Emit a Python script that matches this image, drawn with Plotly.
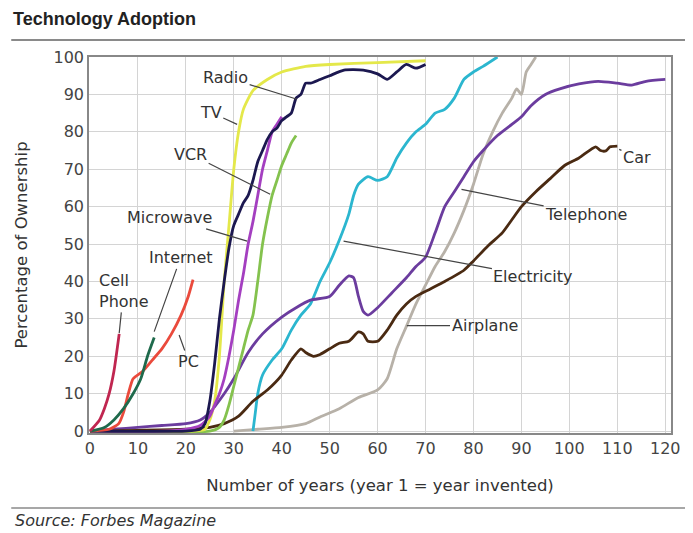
import plotly.graph_objects as go

# ---- data (years since invention, % ownership) ----
cell_x = [0, 2, 3, 4, 5, 6.1]
cell_y = [0, 3, 6, 10, 16, 26]

internet_x = [0, 3, 5, 7, 9, 10.6, 12, 13.4]
internet_y = [0, 1, 3, 6, 10, 14, 20, 25]

pc_x = [0, 4, 6, 7, 8, 9, 11, 13, 15, 17, 19, 20.5, 21.5]
pc_y = [0, 0.5, 2, 5, 10, 14, 16, 19, 22, 26, 31, 36, 40.5]

tv_x = [0, 20, 24, 25, 26, 27, 28, 29, 30, 31, 32, 34, 37, 40, 45, 50, 60, 70]
tv_y = [0, 0, 0.5, 3, 8, 20, 40, 55, 70, 80, 86, 91, 94, 96, 97.5, 98, 98.5, 99]

radio_x = [0, 20, 23, 24, 25, 26, 27, 28, 29, 30, 31, 32, 33, 34, 35, 36, 37, 38,
           39, 40, 41, 42, 43, 44, 45, 46, 48, 50, 53, 57, 60, 62, 64, 66, 68, 70]
radio_y = [0, 0, 0.5, 2, 8, 18, 30, 40, 49, 55, 58, 61, 63, 67, 72, 75, 78, 80,
           81, 83, 84, 85, 89, 90, 93, 93, 94, 95, 96.5, 96.5, 95.5, 94, 96, 98, 97, 98]

microwave_x = [0, 15, 20, 23, 25, 26, 27, 28, 29, 30, 31, 32, 33, 34, 35, 36, 37, 38, 39, 40]
microwave_y = [0, 0, 0.5, 1.5, 4, 7, 10, 14, 20, 27, 35, 42, 50, 56, 63, 70, 75, 80, 82, 84]

vcr_x = [0, 25, 27, 28, 29, 30, 31, 32, 33, 34, 35, 36, 37, 38, 39, 40, 41, 42, 43]
vcr_y = [0, 0, 1, 3, 7, 12, 17, 22, 27, 31, 40, 50, 57, 63, 67, 71, 74, 77, 79]

elec_x = [34, 34.5, 35, 36, 38, 40, 42, 44, 46, 48, 50, 52, 54, 55, 56, 58, 60, 62,
          64, 66, 68, 70, 72, 74, 76, 78, 80, 82, 85]
elec_y = [0, 5, 10, 15, 19, 22, 27, 31, 34, 40, 45, 51, 58, 63, 66, 68, 67, 68,
          73, 77, 80, 82, 85, 86, 89, 94, 96, 97.5, 100]

phone_x = [0, 5, 10, 15, 20, 23, 25, 28, 30, 33, 36, 40, 43, 46, 50, 52, 54, 55, 56,
           57, 58, 60, 63, 66, 68, 70, 72, 74, 76, 78, 80, 82, 85, 88, 90, 92, 95, 98,
           102, 106, 110, 113, 116, 120]
phone_y = [0, 0.5, 1, 1.5, 2, 3, 5, 10, 14, 21, 26, 30.5, 33, 35, 36, 39, 41.5, 41, 36,
           32, 31, 33, 37, 41, 44, 46.5, 53, 60, 64, 68, 72, 75, 79, 82, 84, 87, 90, 91.5,
           92.8, 93.5, 93, 92.5, 93.5, 94]

car_x = [0, 10, 20, 25, 28, 31, 34, 37, 40, 42, 44, 45, 46.6, 48, 50, 52, 54, 56, 57,
         58, 60, 62, 64, 66, 68, 71, 74, 78, 80, 83, 86, 88, 90, 93, 96, 99, 102, 105.5,
         106.5, 107.6, 108.5, 110]
car_y = [0, 0.2, 0.5, 1, 2, 4, 8, 11, 15, 19, 22, 21, 20, 20.5, 22, 23.5, 24, 26.5, 26,
         24, 24, 27, 31, 34, 36, 38, 40, 43, 45.5, 49.5, 53, 56.5, 60, 64, 67.5, 71, 73,
         76, 75, 74.9, 76, 76.2]

air_x = [30, 35, 40, 45, 48, 52, 56, 60, 62, 64, 66, 68, 70, 72, 74, 76, 78, 80, 82,
         84, 86, 88, 89, 90, 91, 92, 93]
air_y = [0, 0.5, 1, 2, 3.8, 6, 9, 11, 14, 22, 28, 34, 39, 44, 48, 53, 59, 66, 74,
         80, 85, 89, 91.5, 90, 96, 98, 100]

x_ticks = list(range(0, 121, 10))
y_ticks = list(range(0, 101, 10))

series = [
    ("Airplane", air_x, air_y, "#b7b1a8"),
    ("Electricity", elec_x, elec_y, "#2bb6cf"),
    ("Telephone", phone_x, phone_y, "#6b3c9e"),
    ("Car", car_x, car_y, "#4a2a12"),
    ("VCR", vcr_x, vcr_y, "#84c24e"),
    ("TV", tv_x, tv_y, "#e4e84a"),
    ("Microwave", microwave_x, microwave_y, "#a43fc0"),
    ("Radio", radio_x, radio_y, "#1c1850"),
    ("PC", pc_x, pc_y, "#ea4a3c"),
    ("Internet", internet_x, internet_y, "#1f6a4c"),
    ("Cell Phone", cell_x, cell_y, "#c02650"),
]

FONT = "DejaVu Sans, Verdana, sans-serif"

fig = go.Figure()
for name, xs, ys, col in series:
    fig.add_trace(go.Scatter(x=xs, y=ys, mode="lines", name=name,
                             line=dict(color=col, width=2.8, shape="spline", smoothing=0.6)))

# labels: (text, point x, point y, text x, text y)
labels = [
    ("Radio", 43.2, 88.7, 28.3, 94.6),
    ("TV", 30.7, 82.0, 25.2, 85.2),
    ("VCR", 37.6, 63.3, 21.0, 74.0),
    ("Microwave", 32.8, 50.8, 16.5, 57.0),
    ("Internet", 13.4, 26.6, 18.9, 46.3),
    ("Cell<br>Phone", 6.1, 26.2, 7.0, 37.5),
    ("PC", 18.6, 25.7, 20.6, 18.6),
    ("Car", 110.4, 75.3, 114.1, 73.2),
    ("Telephone", 77.5, 64.6, 103.5, 57.9),
    ("Electricity", 52.9, 50.8, 92.4, 41.4),
    ("Airplane", 66.1, 28.2, 82.3, 28.2),
]
for txt, px, py, tx, ty in labels:
    fig.add_annotation(x=px, y=py, ax=tx, ay=ty, axref="x", ayref="y",
                       text=txt, showarrow=True, arrowhead=0, arrowwidth=1.2,
                       arrowcolor="#444", standoff=0, align="left",
                       font=dict(family=FONT, size=16, color="#333"))

# header / footer (paper coords relative to plot area)
fig.add_annotation(x=-0.1336, y=1.101, xref="paper", yref="paper", xanchor="left", yanchor="middle",
                   text="<b>Technology Adoption</b>", showarrow=False,
                   font=dict(family="Liberation Sans, Arial, sans-serif", size=18, color="#222"))
fig.add_annotation(x=-0.130, y=-0.234, xref="paper", yref="paper", xanchor="left", yanchor="middle",
                   text="<i>Source: Forbes Magazine</i>", showarrow=False,
                   font=dict(family=FONT, size=16, color="#333"))
fig.add_shape(type="line", xref="paper", yref="paper", x0=-0.1336, x1=1.04, y0=1.0452, y1=1.0452,
              line=dict(color="#8a8a8a", width=2))
fig.add_shape(type="line", xref="paper", yref="paper", x0=-0.1336, x1=1.04, y0=-0.1995, y1=-0.1995,
              line=dict(color="#8a8a8a", width=1.5))

fig.update_layout(
    width=685, height=525,
    margin=dict(l=80, r=21, t=49, b=100),
    paper_bgcolor="white", plot_bgcolor="white",
    showlegend=False,
    font=dict(family=FONT, size=16, color="#444"),
)
fig.update_xaxes(range=[-0.2, 121.2], tickvals=x_ticks, showgrid=True, gridcolor="#d4d4d4",
                 gridwidth=1, zeroline=False, showline=True, linecolor="#888", linewidth=1.5,
                 mirror=True, ticks="", tickfont=dict(family=FONT, size=16, color="#444"),
                 title=dict(text="Number of years (year 1 = year invented)", standoff=22,
                            font=dict(family=FONT, size=16.5, color="#333")))
fig.update_yaxes(range=[-0.5, 100], tickvals=y_ticks, showgrid=True, gridcolor="#d4d4d4",
                 gridwidth=1, zeroline=False, showline=True, linecolor="#888", linewidth=1.5,
                 mirror=True, ticks="", tickfont=dict(family=FONT, size=16, color="#444"),
                 title=dict(text="Percentage of Ownership", standoff=22,
                            font=dict(family=FONT, size=16.5, color="#333")))

fig.write_html("out.html")
